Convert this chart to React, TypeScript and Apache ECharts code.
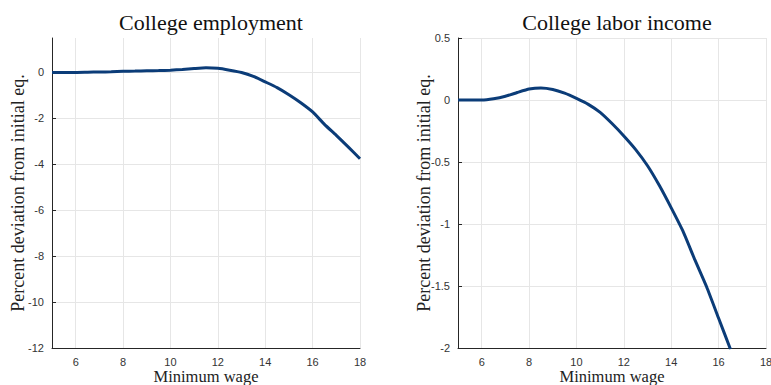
import React, { useEffect, useRef } from "react";
import * as echarts from "echarts";

// Minimum wage grid (x) and the two responses (percent deviation from initial eq.)
const wageEmployment = [5, 5.5, 6, 6.5, 7, 7.5, 8, 8.5, 9, 9.5, 10, 10.5, 11, 11.5, 12, 12.5, 13, 13.5, 14, 14.5, 15, 15.5, 16, 16.5, 17, 17.5, 18];
const collegeEmployment = [0, 0, 0, 0.01, 0.02, 0.03, 0.05, 0.06, 0.07, 0.08, 0.1, 0.13, 0.17, 0.2, 0.18, 0.1, 0, -0.17, -0.41, -0.66, -0.97, -1.32, -1.72, -2.26, -2.74, -3.24, -3.76];

const wageIncome = [5, 5.5, 6, 6.5, 7, 7.5, 8, 8.5, 9, 9.5, 10, 10.5, 11, 11.5, 12, 12.5, 13, 13.5, 14, 14.5, 15, 15.5, 16, 16.5];
const collegeIncome = [0, 0, 0, 0.01, 0.03, 0.06, 0.088, 0.097, 0.085, 0.055, 0.013, -0.035, -0.1, -0.19, -0.29, -0.4, -0.53, -0.69, -0.87, -1.06, -1.29, -1.51, -1.76, -2.01];

const xTicks = [6, 8, 10, 12, 14, 16, 18];
const employmentTicks = [-12, -10, -8, -6, -4, -2, 0];
const incomeTicks = [-2, -1.5, -1, -0.5, 0, 0.5];

const LINE = "#0b3c78";
const AXIS = "#262626";
const GRIDLINE = "#e6e6e6";
const SERIF = "'Liberation Serif', 'DejaVu Serif', serif";
const SANS = "'Liberation Sans', Arial, sans-serif";

function pairs(xs: number[], ys: number[]) {
  return xs.map((x, i) => [x, ys[i]]);
}

function xAxis(gridIndex: number) {
  return {
    type: "value",
    gridIndex,
    min: 5,
    max: 18,
    interval: 1,
    name: "Minimum wage",
    nameLocation: "middle",
    nameGap: 20,
    nameMoveOverlap: false,
    nameTextStyle: { fontFamily: SERIF, fontSize: 16.5, color: "#222" },
    axisLine: { show: true, onZero: false, lineStyle: { color: AXIS, width: 1 } },
    axisTick: {
      show: true,
      inside: true,
      length: 4,
      lineStyle: { color: AXIS },
      customValues: xTicks,
    },
    axisLabel: {
      color: "#333",
      fontFamily: SANS,
      fontSize: 11,
      margin: 8,
      customValues: xTicks,
    },
    splitLine: { show: false },
  };
}

function yAxisBase(gridIndex: number) {
  return {
    type: "value",
    gridIndex,
    name: "Percent deviation from initial eq.",
    nameLocation: "middle",
    nameGap: 25,
    nameMoveOverlap: false,
    nameTextStyle: { fontFamily: SERIF, fontSize: 18, color: "#222" },
    axisLine: { show: true, lineStyle: { color: AXIS, width: 1 } },
  };
}

export default function App() {
  const ref = useRef<HTMLDivElement>(null);

  useEffect(() => {
    if (!ref.current) return;
    const chart = echarts.init(ref.current, undefined, { renderer: "svg" });

    // vertical grid lines at the labelled wages
    const vLines = xTicks.map((v) => ({ xAxis: v }));
    const gridMarks = {
      silent: true,
      symbol: "none",
      label: { show: false },
      lineStyle: { color: GRIDLINE, type: "solid", width: 1 },
      data: vLines,
      z: 1,
    };

    chart.setOption({
      animation: false,
      backgroundColor: "#fff",
      title: [
        {
          text: "College employment",
          left: 206,
          top: 6,
          textAlign: "center",
          textStyle: { fontFamily: SERIF, fontSize: 22, fontWeight: "normal", color: "#111" },
        },
        {
          text: "College labor income",
          left: 612,
          top: 6,
          textAlign: "center",
          textStyle: { fontFamily: SERIF, fontSize: 22, fontWeight: "normal", color: "#111" },
        },
      ],
      grid: [
        { left: 52, right: 411, top: 38, bottom: 37, outerBoundsMode: "none", containLabel: false },
        { left: 458, right: 5, top: 38, bottom: 37, outerBoundsMode: "none", containLabel: false },
      ],
      xAxis: [xAxis(0), xAxis(1)],
      yAxis: [
        {
          ...yAxisBase(0),
          min: -12,
          max: 1.5,
          interval: 2,
          axisTick: {
            show: true,
            inside: true,
            length: 4,
            lineStyle: { color: AXIS },
            customValues: employmentTicks,
          },
          axisLabel: {
            color: "#333",
            fontFamily: SANS,
            fontSize: 11,
            margin: 8,
            customValues: employmentTicks,
          },
          splitLine: {
            show: true,
            lineStyle: {
              color: [GRIDLINE, GRIDLINE, GRIDLINE, GRIDLINE, GRIDLINE, GRIDLINE, GRIDLINE, "rgba(0,0,0,0)"],
              width: 1,
            },
          },
        },
        {
          ...yAxisBase(1),
          min: -2,
          max: 0.5,
          interval: 0.5,
          axisTick: { show: true, inside: true, length: 4, lineStyle: { color: AXIS } },
          axisLabel: {
            color: "#333",
            fontFamily: SANS,
            fontSize: 11,
            margin: 8,
            formatter: (v: number) => (incomeTicks.includes(v) ? String(v) : ""),
          },
          splitLine: { show: true, lineStyle: { color: GRIDLINE, width: 1 } },
        },
      ],
      series: [
        {
          type: "line",
          xAxisIndex: 0,
          yAxisIndex: 0,
          data: pairs(wageEmployment, collegeEmployment),
          showSymbol: false,
          smooth: 0.2,
          lineStyle: { color: LINE, width: 3 },
          itemStyle: { color: LINE },
          z: 3,
          markLine: gridMarks,
        },
        {
          type: "line",
          xAxisIndex: 1,
          yAxisIndex: 1,
          data: pairs(wageIncome, collegeIncome),
          showSymbol: false,
          smooth: 0.15,
          clip: true,
          lineStyle: { color: LINE, width: 3 },
          itemStyle: { color: LINE },
          z: 3,
          markLine: gridMarks,
        },
      ],
    });

    return () => chart.dispose();
  }, []);

  return (
    <div
      ref={ref}
      style={{ position: "fixed", left: 0, top: 0, width: 771, height: 385 }}
    />
  );
}
